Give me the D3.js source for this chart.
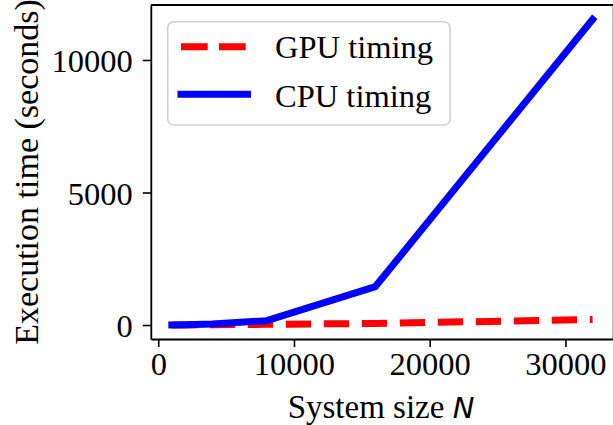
<!DOCTYPE html>
<html>
<head>
<meta charset="utf-8">
<script src="https://cdn.jsdelivr.net/npm/d3@7"></script>
<style>
    body { margin: 0; background: #fff; }
    svg text { font-family: "Liberation Serif", "Times New Roman", serif; fill: #000; }
</style>
</head>
<body>
<div id="timingChart"></div>
<script>
// system sizes and timings (seconds)
const systemSizes = [1000, 2000, 4000, 8000, 16000, 32000];
const gpuTiming = [2, 4, 10, 25, 60, 205];
const cpuTiming = [3, 12, 40, 165, 1450, 11530];
const xTicks = [0, 10000, 20000, 30000];
const yTicks = [0, 5000, 10000];
const seriesNames = ["GPU timing", "CPU timing"];

let width = 613, height = 425;
let fontSize = 32.5;

let svg = d3.select("#timingChart")
    .append("svg")
    .attr("width", width)
    .attr("height", height);

let x = d3.scaleLinear()
    .domain([-550, 33550])
    .range([150.8, 613.6]);
let y = d3.scaleLinear()
    .domain([-528, 12075])
    .range([339, 5]);

//bottom axis
let xAxis = svg.append("g")
    .attr("transform", "translate(0,339)")
    .call(d3.axisBottom(x).tickValues(xTicks).tickFormat(d3.format("d"))
        .tickSize(8).tickSizeOuter(0).tickPadding(5.3));
xAxis.selectAll("text").style("font-size", fontSize + "px");

//left axis
let yAxis = svg.append("g")
    .attr("transform", "translate(150.8,0)")
    .call(d3.axisLeft(y).tickValues(yTicks).tickFormat(d3.format("d"))
        .tickSize(8).tickSizeOuter(0).tickPadding(10));
yAxis.selectAll("text").style("font-size", fontSize + "px").attr("dy", "0.36em");

svg.selectAll(".domain").attr("stroke", "#000").attr("stroke-width", 1.8);
svg.selectAll(".tick line").attr("stroke", "#000").attr("stroke-width", 1.6);

//top and right spines
svg.append("line").attr("x1", x.range()[0]).attr("x2", x.range()[1])
    .attr("y1", 5).attr("y2", 5).attr("stroke", "#000").attr("stroke-width", 1.8);
svg.append("line").attr("x1", x.range()[1]).attr("x2", x.range()[1])
    .attr("y1", 5).attr("y2", 339).attr("stroke", "#000").attr("stroke-width", 1.8);

let line = d3.line()
    .x(function (d) { return x(d[0]); })
    .y(function (d) { return y(d[1]); });

svg.append("path")
    .datum(systemSizes.map((n, i) => [n, gpuTiming[i]]))
    .attr("d", line)
    .attr("fill", "none")
    .attr("stroke", "#ff0000")
    .attr("stroke-width", 7)
    .attr("stroke-dasharray", "25.3,12.7");

svg.append("path")
    .datum(systemSizes.map((n, i) => [n, cpuTiming[i]]))
    .attr("d", line)
    .attr("fill", "none")
    .attr("stroke", "#0000ff")
    .attr("stroke-width", 7)
    .attr("stroke-linecap", "square")
    .attr("stroke-linejoin", "round");

//axis labels
svg.append("text")
    .attr("text-anchor", "middle")
    .attr("x", 381)
    .attr("y", 418)
    .style("font-size", "33px")
    .html('System size <tspan style="font-family: \'DejaVu Sans\'; font-style: italic; font-size: 29px">N</tspan>');
svg.append("text")
    .attr("text-anchor", "middle")
    .attr("transform", "translate(38,172)rotate(-90)")
    .style("font-size", "34px")
    .text("Execution time (seconds)");

//legend
let legend = svg.append("g");
legend.append("rect")
    .attr("x", 167.7).attr("y", 21.7)
    .attr("width", 282.3).attr("height", 103.3)
    .attr("rx", 6)
    .attr("fill", "#fff").attr("fill-opacity", 0.8)
    .attr("stroke", "#d0d0d0").attr("stroke-width", 1.6);
legend.append("line")
    .attr("x1", 181).attr("x2", 247.5).attr("y1", 46.7).attr("y2", 46.7)
    .attr("stroke", "#ff0000").attr("stroke-width", 7)
    .attr("stroke-dasharray", "26.7,11.3");
legend.append("line")
    .attr("x1", 181).attr("x2", 247.5).attr("y1", 94.3).attr("y2", 94.3)
    .attr("stroke", "#0000ff").attr("stroke-width", 7)
    .attr("stroke-linecap", "square");
legend.selectAll("text.leg")
    .data(seriesNames)
    .enter()
    .append("text")
    .attr("class", "leg")
    .attr("x", 275)
    .attr("y", function (d, i) { return 58 + i * 48.5; })
    .style("font-size", fontSize + "px")
    .text(function (d) { return d; });
</script>
</body>
</html>
